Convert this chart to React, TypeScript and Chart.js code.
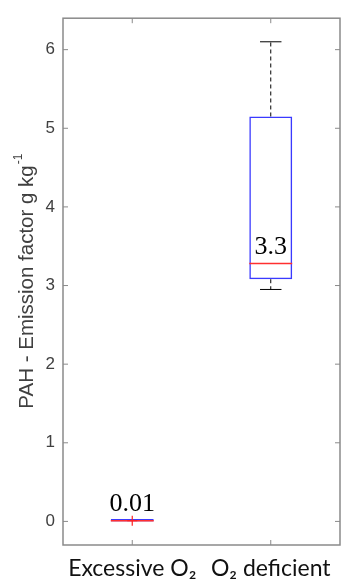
import React, { useEffect, useRef } from "react";
import { Chart, registerables } from "chart.js";

Chart.register(...registerables);

const categories = ["Excessive O₂", "O₂ deficient"];
const whiskerLow = [0.0, 2.95];
const q1 = [0.0, 3.08];
const median = [0.01, 3.28];
const q3 = [0.03, 5.15];
const whiskerHigh = [0.03, 6.1];
const outliers: number[][] = [[0.01], []];
const medianLabels = ["0.01", "3.3"];
const yMin = -0.3;
const yMax = 6.4;
const yStep = 1;
const yTitleMain = "PAH - Emission factor g kg";
const yTitleSup = "-1";

const boxPlugin = {
  id: "boxExtras",
  afterDatasetsDraw(chart: any) {
    const { ctx, chartArea, scales } = chart;
    const xs = scales.x;
    const ys = scales.y;
    const meta = chart.getDatasetMeta(0);
    ctx.save();
    categories.forEach((_, i) => {
      const bar = meta.data[i];
      const cx = xs.getPixelForValue(i);
      const half = bar.width / 2;
      const capHalf = half / 2;
      const yq1 = ys.getPixelForValue(q1[i]);
      const yq3 = ys.getPixelForValue(q3[i]);
      const ylo = ys.getPixelForValue(whiskerLow[i]);
      const yhi = ys.getPixelForValue(whiskerHigh[i]);
      ctx.strokeStyle = "#000";
      ctx.lineWidth = 1;
      if (whiskerHigh[i] > q3[i]) {
        ctx.setLineDash([4, 3]);
        ctx.beginPath();
        ctx.moveTo(cx, yq3);
        ctx.lineTo(cx, yhi);
        ctx.stroke();
        ctx.setLineDash([]);
        ctx.beginPath();
        ctx.moveTo(cx - capHalf, yhi);
        ctx.lineTo(cx + capHalf, yhi);
        ctx.stroke();
      }
      if (whiskerLow[i] < q1[i]) {
        ctx.setLineDash([4, 3]);
        ctx.beginPath();
        ctx.moveTo(cx, yq1);
        ctx.lineTo(cx, ylo);
        ctx.stroke();
        ctx.setLineDash([]);
        ctx.beginPath();
        ctx.moveTo(cx - capHalf, ylo);
        ctx.lineTo(cx + capHalf, ylo);
        ctx.stroke();
      }
      const ym = ys.getPixelForValue(median[i]);
      ctx.strokeStyle = "#ff3030";
      ctx.lineWidth = 1.5;
      ctx.beginPath();
      ctx.moveTo(cx - half, ym);
      ctx.lineTo(cx + half, ym);
      ctx.stroke();
      outliers[i].forEach((v) => {
        const yo = ys.getPixelForValue(v);
        ctx.strokeStyle = "#ff2020";
        ctx.lineWidth = 1.2;
        ctx.beginPath();
        ctx.moveTo(cx - 5, yo);
        ctx.lineTo(cx + 5, yo);
        ctx.moveTo(cx, yo - 5);
        ctx.lineTo(cx, yo + 5);
        ctx.stroke();
      });
      ctx.fillStyle = "#000";
      ctx.font = "26px 'Liberation Serif'";
      ctx.textAlign = "center";
      ctx.textBaseline = "alphabetic";
      ctx.fillText(medianLabels[i], cx, ym - 10);
    });
    ctx.strokeStyle = "#8a8a8a";
    ctx.lineWidth = 1.5;
    const { left, right, top, bottom } = chartArea;
    ctx.strokeRect(left, top, right - left, bottom - top);
    ctx.lineWidth = 1;
    ys.ticks.forEach((t: any) => {
      const y = ys.getPixelForValue(t.value);
      ctx.beginPath();
      ctx.moveTo(left, y);
      ctx.lineTo(left + 5, y);
      ctx.moveTo(right, y);
      ctx.lineTo(right - 5, y);
      ctx.stroke();
    });
    categories.forEach((_, i) => {
      const x = xs.getPixelForValue(i);
      ctx.beginPath();
      ctx.moveTo(x, bottom);
      ctx.lineTo(x, bottom - 5);
      ctx.moveTo(x, top);
      ctx.lineTo(x, top + 5);
      ctx.stroke();
    });
    ctx.save();
    const cy = (top + bottom) / 2;
    ctx.translate(27, cy);
    ctx.rotate(-Math.PI / 2);
    ctx.fillStyle = "#404040";
    ctx.font = "20.5px 'Liberation Sans'";
    const wMain = ctx.measureText(yTitleMain).width;
    ctx.font = "12px 'Liberation Sans'";
    const wSup = ctx.measureText(yTitleSup).width;
    const start = -(wMain + wSup) / 2;
    ctx.textAlign = "left";
    ctx.textBaseline = "middle";
    ctx.font = "20.5px 'Liberation Sans'";
    ctx.fillText(yTitleMain, start, 0);
    ctx.font = "12px 'Liberation Sans'";
    ctx.fillText(yTitleSup, start + wMain + 1, -8);
    ctx.restore();
    ctx.restore();
  },
};

export default function App() {
  const ref = useRef<HTMLCanvasElement | null>(null);
  useEffect(() => {
    if (!ref.current) return;
    const chart = new Chart(ref.current, {
      type: "bar",
      data: {
        labels: categories,
        datasets: [
          {
            data: categories.map((_, i) => [q1[i], q3[i]]) as any,
            backgroundColor: "rgba(0,0,0,0)",
            borderColor: "#3a3aff",
            borderWidth: 1.5,
            borderSkipped: false,
            barPercentage: 0.31,
            categoryPercentage: 1,
          },
        ],
      },
      options: {
        animation: false,
        responsive: true,
        maintainAspectRatio: false,
        layout: { padding: { top: 14, right: 4, left: 0, bottom: 0 } },
        plugins: { legend: { display: false }, tooltip: { enabled: false } },
        scales: {
          x: {
            grid: { display: false, drawTicks: false },
            border: { display: false },
            ticks: {
              color: "#111",
              font: { family: "Lato", size: 23 },
              padding: 10,
              maxRotation: 0,
              autoSkip: false,
            },
            afterFit: (s: any) => {
              s.height = 38;
            },
          },
          y: {
            min: yMin,
            max: yMax,
            grid: { display: false, drawTicks: false },
            border: { display: false },
            ticks: {
              stepSize: yStep,
              color: "#404040",
              font: { family: "'Liberation Sans'", size: 17 },
              padding: 8,
            },
            afterBuildTicks: (s: any) => {
              s.ticks = s.ticks.filter(
                (t: any) => t.value >= 0 && Number.isInteger(t.value)
              );
            },
            afterFit: (s: any) => {
              s.width = 63;
            },
          },
        },
      },
      plugins: [boxPlugin],
    });
    return () => chart.destroy();
  }, []);
  return (
    <div style={{ position: "fixed", left: 0, top: 0, width: 344, height: 583 }}>
      <canvas ref={ref} />
    </div>
  );
}
